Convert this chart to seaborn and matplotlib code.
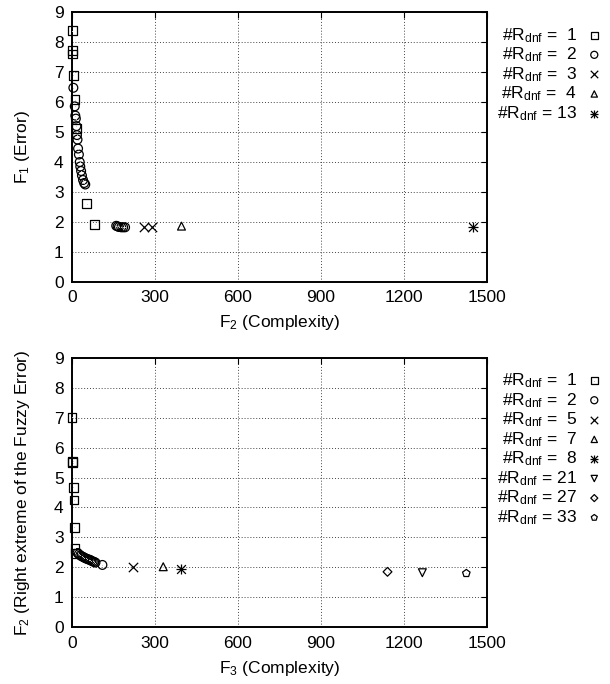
import matplotlib
matplotlib.use("Agg")
import matplotlib.pyplot as plt
import seaborn as sns
import numpy as np
from matplotlib.legend_handler import HandlerTuple

sns.set_theme(style="white")
plt.rcParams['font.family'] = ['Liberation Sans', 'DejaVu Sans']
plt.rcParams['mathtext.fontset'] = 'custom'
plt.rcParams['mathtext.rm'] = 'Liberation Sans'
plt.rcParams['mathtext.it'] = 'Liberation Sans'

# ---- top panel data: F2 (complexity) vs F1 (error) ----
top_r1_x = [1, 2, 3, 5, 11, 17, 53, 82]
top_r1_y = [8.39, 7.72, 7.61, 6.89, 6.08, 5.11, 2.61, 1.92]
top_r2_x = [5, 10, 12, 14, 16, 18, 20, 22, 25, 28, 30, 33, 36, 40, 44, 48,
            160, 165, 170, 178, 185, 192]
top_r2_y = [6.48, 5.86, 5.55, 5.45, 5.2, 4.9, 4.75, 4.45, 4.25, 4.0, 3.85, 3.7,
            3.55, 3.4, 3.3, 3.25, 1.87, 1.85, 1.83, 1.82, 1.82, 1.82]
top_r3_x = [260, 290]
top_r3_y = [1.83, 1.83]
top_r4_x = [396]
top_r4_y = [1.86]
top_r13_x = [1450]
top_r13_y = [1.84]

# ---- bottom panel data: F3 (complexity) vs F2 (right extreme fuzzy error) ----
bot_r1_x = [0, 2, 3, 5, 7, 9, 11, 12]
bot_r1_y = [7.01, 5.54, 5.5, 4.67, 4.25, 3.34, 2.64, 2.47]
bot_r2_x = [20, 25, 30, 35, 40, 45, 50, 55, 60, 65, 70, 75, 80, 85, 110]
bot_r2_y = [2.48, 2.44, 2.40, 2.37, 2.35, 2.32, 2.30, 2.28, 2.26, 2.25, 2.22,
            2.20, 2.18, 2.16, 2.08]
bot_r5_x = [219]
bot_r5_y = [2.0]
bot_r7_x = [330]
bot_r7_y = [2.02]
bot_r8_x = [393]
bot_r8_y = [1.96]
bot_r21_x = [1267]
bot_r21_y = [1.82]
bot_r27_x = [1141]
bot_r27_y = [1.85]
bot_r33_x = [1426]
bot_r33_y = [1.80]

x_ticks = [0, 300, 600, 900, 1200, 1500]
y_ticks = list(range(0, 10))

top_series = [("1", top_r1_x, top_r1_y, "s", True),
              ("2", top_r2_x, top_r2_y, "o", True),
              ("3", top_r3_x, top_r3_y, "x", False),
              ("4", top_r4_x, top_r4_y, "^", True),
              ("13", top_r13_x, top_r13_y, "star", False)]
bot_series = [("1", bot_r1_x, bot_r1_y, "s", True),
              ("2", bot_r2_x, bot_r2_y, "o", True),
              ("5", bot_r5_x, bot_r5_y, "x", False),
              ("7", bot_r7_x, bot_r7_y, "^", True),
              ("8", bot_r8_x, bot_r8_y, "star", False),
              ("21", bot_r21_x, bot_r21_y, "v", True),
              ("27", bot_r27_x, bot_r27_y, "D", True),
              ("33", bot_r33_x, bot_r33_y, "p", True)]

fig = plt.figure(figsize=(6.1, 6.84), dpi=100)
ax1 = fig.add_axes([0.118, 0.588, 0.680, 0.394])
ax2 = fig.add_axes([0.118, 0.083, 0.680, 0.394])

sizes = {"s": 40, "o": 40, "x": 45, "^": 32, "star": 40, "v": 32, "D": 20, "p": 32}


def draw(ax, series, xlabel, ylabel):
    handles, labels = [], []
    for lab, xs, ys, mk, filled in series:
        s = sizes[mk]
        if mk == "star":
            sns.scatterplot(x=xs, y=ys, marker="x", s=s, color="black",
                            linewidth=0.9, ax=ax, clip_on=False, zorder=3)
            hx = ax.collections[-1]
            sns.scatterplot(x=xs, y=ys, marker="+", s=s * 1.3, color="black",
                            linewidth=0.9, ax=ax, clip_on=False, zorder=3)
            hp = ax.collections[-1]
            handle = (hx, hp)
        elif filled:
            sns.scatterplot(x=xs, y=ys, marker=mk, s=s, facecolor="none",
                            edgecolor="black", linewidth=0.9, ax=ax,
                            clip_on=False, zorder=3)
            hm = ax.collections[-1]
            sns.scatterplot(x=xs, y=ys, marker=".", s=2, color="black",
                            linewidth=0, ax=ax, clip_on=False, zorder=4)
            hd = ax.collections[-1]
            handle = (hm, hd)
        else:
            sns.scatterplot(x=xs, y=ys, marker=mk, s=s, color="black",
                            linewidth=0.9, ax=ax, clip_on=False, zorder=3)
            handle = ax.collections[-1]
        handles.append(handle)
        pad = "  " if len(lab) == 1 else " "
        labels.append(r"#R$_\mathrm{dnf}$ =" + pad + lab)

    ax.set_xlim(0, 1500)
    ax.set_ylim(0, 9)
    ax.set_xticks(x_ticks)
    ax.set_yticks(y_ticks)
    ax.tick_params(axis="both", labelsize=12.5, colors="black", direction="in",
                   length=4, width=0.8, top=True, right=True, pad=6)
    ax.grid(True, linestyle=(0, (1, 2)), color="#444444", linewidth=0.7)
    for sp in ax.spines.values():
        sp.set_color("black")
        sp.set_linewidth(1.4)
    ax.set_xlabel(xlabel, fontsize=12.5, color="black", labelpad=6)
    ax.set_ylabel(ylabel, fontsize=12.5, color="black", labelpad=16)
    leg = ax.legend(handles, labels,
                    handler_map={tuple: HandlerTuple(ndivide=1, pad=0)},
                    loc="upper left", bbox_to_anchor=(0.995, 0.995), frameon=False,
                    markerfirst=False, fontsize=12.5, handlelength=0.8,
                    handletextpad=0.6, labelspacing=0.05, borderaxespad=0.3,
                    markerscale=0.8)
    for t in leg.get_texts():
        t.set_color("black")


draw(ax1, top_series, r"F$_2$ (Complexity)", r"F$_1$ (Error)")
draw(ax2, bot_series, r"F$_3$ (Complexity)", r"F$_2$ (Right extreme of the Fuzzy Error)")

fig.savefig("out.png", dpi=100)
